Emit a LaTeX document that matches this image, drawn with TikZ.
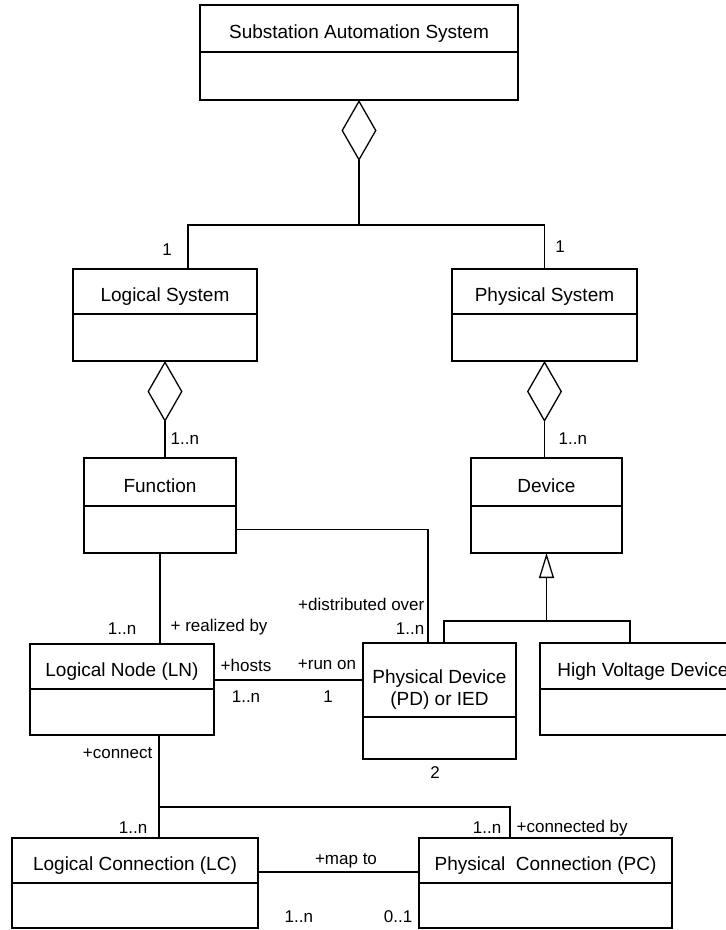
\documentclass[tikz,border=0pt]{standalone}
\usepackage{fontspec}
\setmainfont{Liberation Sans}
\usetikzlibrary{arrows.meta,positioning}
\tikzset{
    >=Stealth,
    cls/.style={draw, inner sep=0pt, outer sep=0pt, align=center, anchor=north west, text height=20pt, text depth=0pt, font=\fontsize{19}{22}\selectfont},
    clsbody/.style={draw, inner sep=0pt, outer sep=0pt},
    lbl/.style={inner sep=0pt, font=\fontsize{17}{20}\selectfont},
    agg/.style={{Diamond[open,length=61pt,width=35pt]}-},
    gen/.style={{Triangle[open,length=25pt,width=15pt]}-}
}

\begin{document}
\begin{tikzpicture}[x=1pt, y=-1pt, line width=1.3pt]
\clip (0,0) rectangle (726,930);

% Classes
\node[cls, minimum width=318pt, minimum height=47pt] (sas) at (200,5) {Substation Automation System};
\node[clsbody, minimum width=318pt, minimum height=48pt] (sasB) [below=0pt of sas] {};
\node[cls, minimum width=184pt, minimum height=45pt] (ls) at (73,269) {Logical System};
\node[clsbody, minimum width=184pt, minimum height=47pt] (lsB) [below=0pt of ls] {};
\node[cls, minimum width=185pt, minimum height=45pt] (ps) at (452,269) {Physical System};
\node[clsbody, minimum width=185pt, minimum height=47pt] (psB) [below=0pt of ps] {};
\node[cls, minimum width=152pt, minimum height=48pt] (fn) at (84,458) {Function};
\node[clsbody, minimum width=152pt, minimum height=47pt] (fnB) [below=0pt of fn] {};
\node[cls, minimum width=151pt, minimum height=48pt] (dv) at (471,458) {Device};
\node[clsbody, minimum width=151pt, minimum height=47pt] (dvB) [below=0pt of dv] {};
\node[cls, minimum width=184pt, minimum height=45pt] (ln) at (30,644) {Logical Node (LN)};
\node[clsbody, minimum width=184pt, minimum height=46pt] (lnB) [below=0pt of ln] {};
\node[cls, minimum width=153pt, minimum height=74pt, text height=50pt] (pd) at (363,643) {Physical Device\\(PD) or IED};
\node[clsbody, minimum width=153pt, minimum height=42pt] (pdB) [below=0pt of pd] {};
\node[cls, minimum width=206pt, minimum height=46pt] (hv) at (540,643) {High Voltage Device};
\node[clsbody, minimum width=206pt, minimum height=46pt] (hvB) [below=0pt of hv] {};
\node[cls, minimum width=246pt, minimum height=45pt] (lc) at (12,838) {Logical Connection (LC)};
\node[clsbody, minimum width=246pt, minimum height=45pt] (lcB) [below=0pt of lc] {};
\node[cls, minimum width=253pt, minimum height=45pt] (pc) at (419,838) {Physical\ \ Connection (PC)};
\node[clsbody, minimum width=253pt, minimum height=45pt] (pcB) [below=0pt of pc] {};

% Aggregations
\draw[agg] (sasB.south) -- ++(0,125) coordinate (sasJ);
\draw ([xshift=23pt]ls.north) -- ++(0,-44) -| (ps.north);
\draw[agg] (lsB.south) -- (fn.north -| lsB.south);
\draw[agg] (psB.south) -- (dv.north -| psB.south);

% Generalization
\draw[gen] (dvB.south) -- ++(0,68) coordinate (dvJ);
\draw ([xshift=4.5pt]pd.north) -- ++(0,-22) -| ([xshift=-13pt]hv.north);

% Associations
\draw (fnB.south) -- (ln.north -| fnB.south);
\draw (fnB.east) -| ([xshift=-11.5pt]pd.north);
\draw (ln.east |- pd.west) -- (pd.west);
\draw ([xshift=37pt]lnB.south) -- ([xshift=24pt]lc.north);
\draw ([xshift=37pt]lnB.south) ++(0,72) -| ([xshift=-35.5pt]pc.north);
\draw ([yshift=-11.5pt]lc.east) -- ([yshift=-11.5pt]pc.west);

% Roles and multiplicities
\node[lbl] (lsMult) at (167,250) {1};
\node[lbl] (psMult) at (560,247) {1};
\node[lbl, anchor=west] (fnMult) at (170,439) {1..n};
\node[lbl, anchor=west] (dvMult) at (558,439) {1..n};
\node[lbl, anchor=east] (lnMult) at (137,629) {1..n};
\node[lbl, anchor=west] (realBy) at (170,627) {+ realized by};
\node[lbl, anchor=east] (distOver) at (425,604) {+distributed over};
\node[lbl, anchor=east] (pdMult) at (425,629) {1..n};
\node[lbl] (hosts) at (246,665) {+hosts};
\node[lbl] (runOn) at (327,665) {+run on};
\node[lbl] (hostsMult) at (246,697) {1..n};
\node[lbl] (runMult) at (328,697) {1};
\node[lbl] (pdTwo) at (435,773) {2};
\node[lbl, anchor=east] (connect) at (153,753) {+connect};
\node[lbl, anchor=east] (lcMult) at (148,828) {1..n};
\node[lbl, anchor=east] (pcMult) at (502,828) {1..n};
\node[lbl, anchor=west] (connBy) at (516,828) {+connected by};
\node[lbl] (mapTo) at (346,861) {+map to};
\node[lbl, anchor=west] (mapLc) at (284,917) {1..n};
\node[lbl, anchor=east] (mapPc) at (413,917) {0..1};

\end{tikzpicture}
\end{document}
